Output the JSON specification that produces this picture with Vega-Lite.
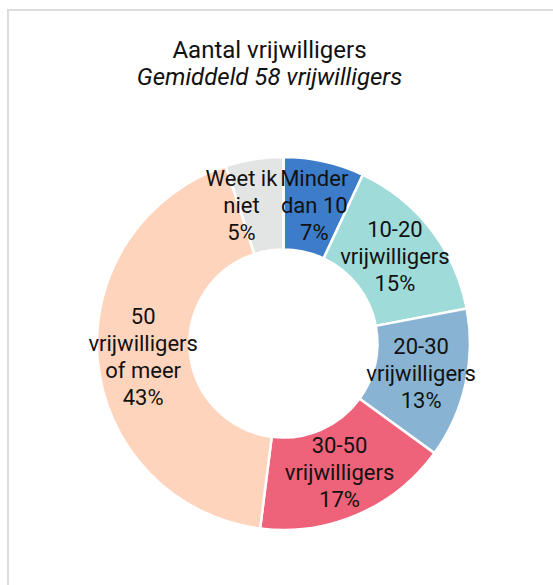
{
  "$schema": "https://vega.github.io/schema/vega-lite/v6.json",
  "autosize": "none",
  "padding": {"left": 8, "top": 10, "right": 0, "bottom": 0},
  "width": 551,
  "height": 667,
  "background": "white",
  "view": {"stroke": "#dcdcdc", "strokeWidth": 2, "fill": "white"},
  "config": {
    "font": "Roboto"
  },
  "title": {
    "text": "Aantal vrijwilligers",
    "subtitle": "Gemiddeld 58 vrijwilligers",
    "anchor": "middle",
    "orient": "top",
    "dx": -14,
    "offset": -80,
    "font": "Roboto",
    "fontSize": 24,
    "fontWeight": "normal",
    "color": "#111111",
    "subtitleFont": "Roboto",
    "subtitleFontSize": 24,
    "subtitleFontStyle": "italic",
    "subtitleColor": "#111111",
    "subtitlePadding": 3
  },
  "data": {
    "values": [
      {"cat": "Minder dan 10", "value": 7, "order": 1, "label": "Minder\ndan 10\n7%"},
      {"cat": "10-20 vrijwilligers", "value": 15, "order": 2, "label": "10-20\nvrijwilligers\n15%"},
      {"cat": "20-30 vrijwilligers", "value": 13, "order": 3, "label": "20-30\nvrijwilligers\n13%"},
      {"cat": "30-50 vrijwilligers", "value": 17, "order": 4, "label": "30-50\nvrijwilligers\n17%"},
      {"cat": "50 vrijwilligers of meer", "value": 43, "order": 5, "label": "50\nvrijwilligers\nof meer\n43%"},
      {"cat": "Weet ik niet", "value": 5, "order": 6, "label": "Weet ik\nniet\n5%"}
    ]
  },
  "encoding": {
    "theta": {"field": "value", "type": "quantitative", "stack": true},
    "order": {"field": "order", "type": "quantitative"}
  },
  "layer": [
    {
      "mark": {"type": "arc", "radius": 186.5, "radius2": 94, "stroke": "white", "strokeWidth": 2.5},
      "encoding": {
        "color": {
          "field": "cat",
          "type": "nominal",
          "legend": null,
          "scale": {
            "domain": ["Minder dan 10", "10-20 vrijwilligers", "20-30 vrijwilligers", "30-50 vrijwilligers", "50 vrijwilligers of meer", "Weet ik niet"],
            "range": ["#3d7cc9", "#9fdbd9", "#89b3d3", "#ee627a", "#ffd4bd", "#e3e5e4"]
          }
        }
      }
    },
    {
      "mark": {"type": "text", "radius": 141, "dy": -27, "fontSize": 22, "lineHeight": 27, "lineBreak": "\n", "align": "center", "baseline": "middle", "color": "#111111", "font": "Roboto"},
      "encoding": {"text": {"condition": {"test": "datum.order <= 4", "field": "label"}, "value": ""}}
    },
    {
      "mark": {"type": "text", "radius": 141, "dy": -40, "fontSize": 22, "lineHeight": 27, "lineBreak": "\n", "align": "center", "baseline": "middle", "color": "#111111", "font": "Roboto"},
      "encoding": {"text": {"condition": {"test": "datum.order === 5", "field": "label"}, "value": ""}}
    },
    {
      "mark": {"type": "text", "radius": 141, "dx": -20, "dy": -25, "fontSize": 22, "lineHeight": 27, "lineBreak": "\n", "align": "center", "baseline": "middle", "color": "#111111", "font": "Roboto"},
      "encoding": {"text": {"condition": {"test": "datum.order === 6", "field": "label"}, "value": ""}}
    }
  ]
}
